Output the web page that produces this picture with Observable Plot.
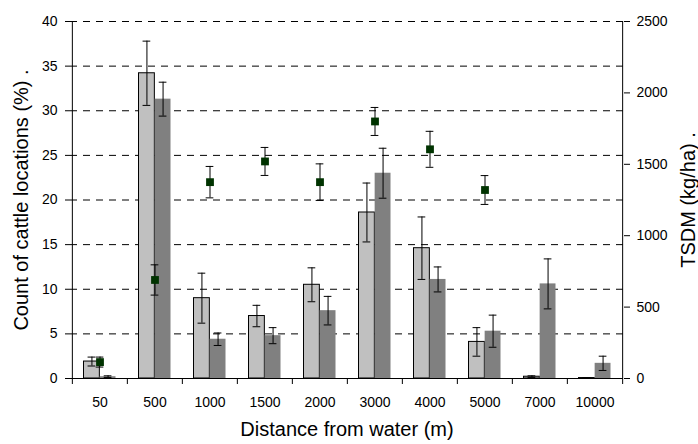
<!DOCTYPE html>
<html>
<head>
<meta charset="utf-8">
<script src="https://cdn.jsdelivr.net/npm/d3@7"></script>
<script src="https://cdn.jsdelivr.net/npm/@observablehq/plot@0.6"></script>
<style>
  html, body { margin: 0; padding: 0; background: #fff; }
  #chart { width: 698px; height: 444px; }
</style>
</head>
<body>
<div id="chart"></div>
<script>
// Categories: distance from water (m)
const categories = ["50", "500", "1000", "1500", "2000", "3000", "4000", "5000", "7000", "10000"];
// Count of cattle locations (%) – series 1 (light bars) and its error
const countLight = [1.9, 34.2, 9.0, 7.0, 10.5, 18.6, 14.6, 4.1, 0.2, 0.05];
const errLight   = [0.5, 3.6, 2.8, 1.2, 1.9, 3.3, 3.5, 1.6, 0.1, 0.0];
// Count of cattle locations (%) – series 2 (dark bars) and its error
const countDark  = [0.2, 31.3, 4.4, 4.8, 7.6, 23.0, 11.1, 5.3, 10.6, 1.7];
const errDark    = [0.1, 1.9, 0.7, 0.9, 1.6, 2.8, 1.4, 1.8, 2.8, 0.8];
// TSDM (kg/ha) points and error (right axis)
const tsdm       = [115, 690, 1375, 1520, 1375, 1800, 1605, 1320, null, null];
const tsdmErr    = [35, 106, 110, 98, 128, 98, 126, 101, null, null];
// Tick values
const leftTicks  = [0, 5, 10, 15, 20, 25, 30, 35, 40];
const rightTicks = [0, 500, 1000, 1500, 2000, 2500];
const gridTicks  = [5, 10, 15, 20, 25, 30, 35, 40];

const leftMax = 40, rightMax = 2500;
const toLeft = v => v * leftMax / rightMax;

const rows = categories.map((c, i) => ({
  cat: c,
  a: countLight[i], ea: errLight[i],
  b: countDark[i], eb: errDark[i],
  t: tsdm[i], et: tsdmErr[i]
}));
const tRows = rows.filter(d => d.t != null);

const W = 698, H = 444, mL = 70, mR = 75, mT = 21, mB = 66;
const bw = (W - mL - mR) / categories.length;
const barInset = 11.5;
const half = bw / 2;
const off = (half - barInset) / 2;       // error bar offset from band centre
const capInset = (bw - 8) / 2;            // cap width 8px
const font = "'Liberation Sans', Arial, sans-serif";

const chart = Plot.plot({
  width: W, height: H,
  marginLeft: mL, marginRight: mR, marginTop: mT, marginBottom: mB,
  style: { fontFamily: font, fontSize: "14px", color: "#000", background: "#fff" },
  x: { domain: categories, padding: 0, axis: null },
  y: { domain: [0, leftMax], axis: null },
  marks: [
    // dashed gridlines
    Plot.ruleY(gridTicks, { stroke: "#000", strokeWidth: 1, strokeDasharray: "7,6" }),
    // bars
    Plot.barY(rows, { x: "cat", y: "a", fill: "#C0C0C0", stroke: "#000", strokeWidth: 1,
      insetLeft: barInset, insetRight: half }),
    Plot.barY(rows, { x: "cat", y: "b", fill: "#808080",
      insetLeft: half, insetRight: barInset }),
    // bar error bars (light)
    Plot.ruleX(rows, { x: "cat", y1: d => d.a - d.ea, y2: d => d.a + d.ea, dx: -off, stroke: "#000" }),
    Plot.tickY(rows, { x: "cat", y: d => d.a - d.ea, dx: -off, insetLeft: capInset, insetRight: capInset, stroke: "#000" }),
    Plot.tickY(rows, { x: "cat", y: d => d.a + d.ea, dx: -off, insetLeft: capInset, insetRight: capInset, stroke: "#000" }),
    // bar error bars (dark)
    Plot.ruleX(rows, { x: "cat", y1: d => d.b - d.eb, y2: d => d.b + d.eb, dx: off, stroke: "#000" }),
    Plot.tickY(rows, { x: "cat", y: d => d.b - d.eb, dx: off, insetLeft: capInset, insetRight: capInset, stroke: "#000" }),
    Plot.tickY(rows, { x: "cat", y: d => d.b + d.eb, dx: off, insetLeft: capInset, insetRight: capInset, stroke: "#000" }),
    // TSDM error bars
    Plot.ruleX(tRows, { x: "cat", y1: d => toLeft(d.t - d.et), y2: d => toLeft(d.t + d.et), stroke: "#000" }),
    Plot.tickY(tRows, { x: "cat", y: d => toLeft(d.t - d.et), insetLeft: capInset, insetRight: capInset, stroke: "#000" }),
    Plot.tickY(tRows, { x: "cat", y: d => toLeft(d.t + d.et), insetLeft: capInset, insetRight: capInset, stroke: "#000" }),
    // TSDM points
    Plot.dot(tRows, { x: "cat", y: d => toLeft(d.t), symbol: "square", r: 4.4, fill: "#003300", stroke: "none" }),
    // frame lines
    Plot.ruleY([0], { stroke: "#000" }),
    Plot.ruleX([categories[0]], { dx: -half, y1: 0, y2: leftMax, stroke: "#000" }),
    Plot.ruleX([categories[categories.length - 1]], { dx: half, y1: 0, y2: leftMax, stroke: "#000" }),
    // left axis
    Plot.axisY({ anchor: "left", ticks: leftTicks, tickSize: 5, tickPadding: 8, label: null, fontSize: 14 }),
    // right axis (TSDM)
    Plot.axisY({ anchor: "right", ticks: rightTicks.map(toLeft), tickFormat: v => String(Math.round(v * rightMax / leftMax)),
      tickSize: 6, tickPadding: 7, label: null, fontSize: 14 }),
    // bottom category labels
    Plot.axisX({ anchor: "bottom", tickSize: 0, tickPadding: 19, label: null, fontSize: 14 }),
    // bottom boundary ticks
    Plot.axisX({ anchor: "bottom", ticks: categories, tickSize: 6, tickFormat: () => "", dx: -half, label: null }),
    Plot.axisX({ anchor: "bottom", ticks: [categories[categories.length - 1]], tickSize: 6, tickFormat: () => "", dx: half, label: null }),
    // axis titles
    Plot.text(["Count of cattle locations (%) ."], { frameAnchor: "left", dx: -49, rotate: -90, fontSize: 20, textAnchor: "middle" }),
    Plot.text(["TSDM (kg/ha) ."], { frameAnchor: "right", dx: 65, rotate: -90, fontSize: 20, textAnchor: "middle" }),
    Plot.text(["Distance from water (m)"], { frameAnchor: "bottom", dy: 57, fontSize: 20, textAnchor: "middle" })
  ]
});
document.getElementById("chart").appendChild(chart);
</script>
</body>
</html>
